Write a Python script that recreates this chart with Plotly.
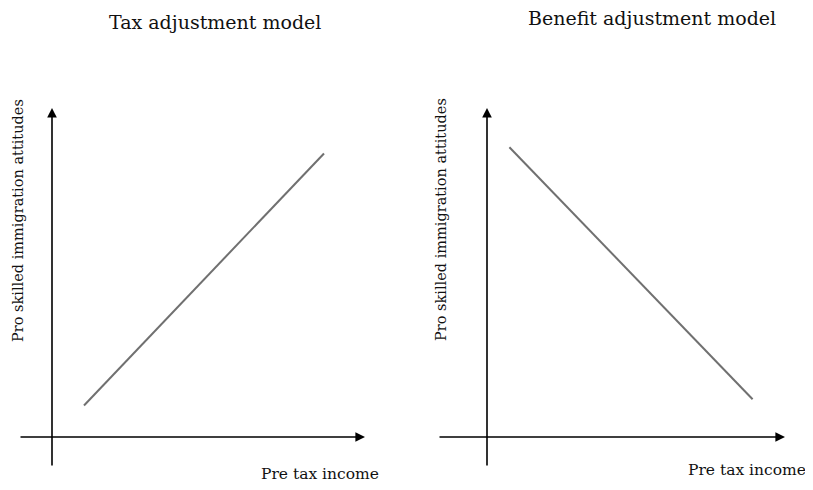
import plotly.graph_objects as go

# Conceptual data (two endpoints per model)
tax_income = [1.0, 8.5]
tax_attitude = [1.0, 9.0]
benefit_income = [0.7, 8.3]
benefit_attitude = [9.2, 1.2]

titles = ["Tax adjustment model", "Benefit adjustment model"]
ylabel = "Pro skilled immigration attitudes"
xlabel = "Pre tax income"

OFF = 8                       # default page margin around the plot div
W, H = 813 - OFF, 490 - OFF
SX, SY = 32.0, 31.5           # pixels per data unit
ORIG = [(52 - OFF, 437 - OFF), (487 - OFF, 437 - OFF)]
DOM = [(0, 406.5 - OFF), (406.5 - OFF, W)]

fig = go.Figure()
fig.add_trace(go.Scatter(x=tax_income, y=tax_attitude, mode="lines",
                         line=dict(color="#707070", width=2), xaxis="x", yaxis="y",
                         showlegend=False, hoverinfo="skip"))
fig.add_trace(go.Scatter(x=benefit_income, y=benefit_attitude, mode="lines",
                         line=dict(color="#707070", width=2), xaxis="x2", yaxis="y2",
                         showlegend=False, hoverinfo="skip"))

layout = dict(width=W, height=H, margin=dict(l=0, r=0, t=0, b=0),
              paper_bgcolor="white", plot_bgcolor="white", showlegend=False)
for i, ((ox, oy), (d0, d1)) in enumerate(zip(ORIG, DOM)):
    sfx = "" if i == 0 else str(i + 1)
    layout["xaxis" + sfx] = dict(domain=[d0 / W, d1 / W], range=[(d0 - ox) / SX, (d1 - ox) / SX],
                                 visible=False, fixedrange=True, anchor="y" + sfx)
    layout["yaxis" + sfx] = dict(domain=[0, 1], range=[(oy - H) / SY, oy / SY],
                                 visible=False, fixedrange=True, anchor="x" + sfx)
fig.update_layout(**layout)

# axis arrows: panel, x-axis start px, x tip px, y-axis bottom px, y tip px (reference pixels)
arrows = [
    (0, 19, 365, 467, 108),
    (1, 438, 785, 467, 108),
]
for i, xs, xt, yb, yt in arrows:
    ox, oy = ORIG[i]
    xs, xt, yb, yt = xs - OFF, xt - OFF, yb - OFF, yt - OFF
    xr = "x" if i == 0 else "x2"
    yr = "y" if i == 0 else "y2"
    fig.add_annotation(x=(xt - ox) / SX, y=0, ax=(xs - ox) / SX, ay=0, xref=xr, yref=yr,
                       axref=xr, ayref=yr, showarrow=True, arrowhead=2, arrowsize=1.2,
                       arrowwidth=1.6, arrowcolor="black", text="", standoff=0)
    fig.add_annotation(x=0, y=(oy - yt) / SY, ax=0, ay=(oy - yb) / SY, xref=xr, yref=yr,
                       axref=xr, ayref=yr, showarrow=True, arrowhead=2, arrowsize=1.2,
                       arrowwidth=1.6, arrowcolor="black", text="", standoff=0)

FONT = "DejaVu Serif"


def paper(cx, cy):
    return (cx - OFF) / W, 1 - (cy - OFF) / H


# titles
for (cx, cy), t in zip([(215, 22), (652, 18)], titles):
    px, py = paper(cx, cy)
    fig.add_annotation(x=px, y=py, xref="paper", yref="paper", text=t,
                       showarrow=False, xanchor="center", yanchor="middle",
                       font=dict(family=FONT, size=19, color="#111"))
# y labels
for cx, cy in [(18, 221), (441, 220)]:
    px, py = paper(cx, cy)
    fig.add_annotation(x=px, y=py, xref="paper", yref="paper", text=ylabel,
                       showarrow=False, textangle=-90, xanchor="center", yanchor="middle",
                       font=dict(family=FONT, size=14.5, color="#111"))
# x labels
for cx, cy in [(320, 474), (747, 470)]:
    px, py = paper(cx, cy)
    fig.add_annotation(x=px, y=py, xref="paper", yref="paper", text=xlabel,
                       showarrow=False, xanchor="center", yanchor="middle",
                       font=dict(family=FONT, size=15.5, color="#111"))

fig.write_html("out.html")
